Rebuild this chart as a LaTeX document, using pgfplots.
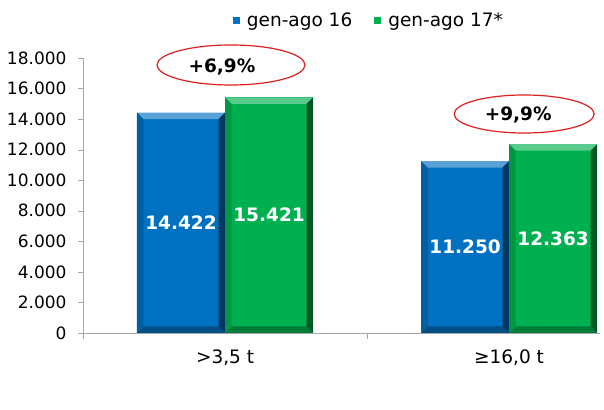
\documentclass[border=0pt]{standalone}
\usepackage{fontspec}
\setmainfont{DejaVu Sans}
\usepackage{pgfplots}
\pgfplotsset{compat=1.18}
\definecolor{cblue}{HTML}{0070C0}
\definecolor{cgreen}{HTML}{00B050}
\definecolor{cred}{HTML}{E02020}
\definecolor{axgray}{HTML}{A6A6A6}
\newlength\bw \setlength\bw{6.5bp}
\tikzset{bevel/.style={fill=#1, draw=none, path picture={
  \fill[#1!65!white, path picture={}] (path picture bounding box.north west) -- (path picture bounding box.north east) -- ([shift={(-\bw,-\bw)}]path picture bounding box.north east) -- ([shift={(\bw,-\bw)}]path picture bounding box.north west) -- cycle;
  \fill[#1!50!black, path picture={}] (path picture bounding box.north east) -- (path picture bounding box.south east) -- ([shift={(-\bw,\bw)}]path picture bounding box.south east) -- ([shift={(-\bw,-\bw)}]path picture bounding box.north east) -- cycle;
  \fill[#1!70!black, path picture={}] (path picture bounding box.south west) -- (path picture bounding box.south east) -- ([shift={(-\bw,\bw)}]path picture bounding box.south east) -- ([shift={(\bw,\bw)}]path picture bounding box.south west) -- cycle;
  \fill[#1!85!black, path picture={}] (path picture bounding box.north west) -- (path picture bounding box.south west) -- ([shift={(\bw,\bw)}]path picture bounding box.south west) -- ([shift={(\bw,-\bw)}]path picture bounding box.north west) -- cycle;
}}}
\begin{document}
\begin{tikzpicture}
\useasboundingbox (0,0) rectangle (604bp,410bp);
\begin{axis}[
  at={(83bp,77bp)}, anchor=south west,
  scale only axis, width=517bp, height=275bp,
  xmin=-0.5, xmax=1.32, ymin=0, ymax=18000,
  clip=false,
  axis lines*=left,
  axis line style={axgray, -},
  ybar=0pt, bar width=0.31,
  ytick={0,2000,...,18000},
  scaled y ticks=false,
  yticklabel style={/pgf/number format/1000 sep={.}, /pgf/number format/fixed, /pgf/number format/assume math mode=true, font=\fontsize{17bp}{20bp}\selectfont, xshift=-8bp},
  xtick={0,1}, xticklabels={{>3,5 t},{≥16,0 t}},
  minor xtick={-0.5,0.5},
  tick align=outside,
  major tick length=5bp, minor tick length=6bp,
  major x tick style={draw=none},
  tick style={axgray},
  minor tick style={axgray},
  xticklabel style={font=\fontsize{18.5bp}{21bp}\selectfont, yshift=-8bp},
  legend style={at={(0.553,1.138)}, anchor=center, draw=none, fill=none, legend columns=2, font=\fontsize{18.5bp}{21bp}\selectfont, /tikz/every even column/.append style={column sep=20bp}, /tikz/every odd column/.append style={column sep=5bp}},
  legend image code/.code={\fill[#1, path picture={}] (0bp,-3.5bp) rectangle (7bp,3.5bp);},
]
\addplot[bevel=cblue, bar shift=-0.155] coordinates {(0,14422)};
\addlegendentry{gen-ago 16}
\addplot[bevel=cgreen, bar shift=0.155] coordinates {(0,15421)};
\addlegendentry{gen-ago 17*}
\addplot[bevel=cblue, bar shift=-0.155, forget plot] coordinates {(1,11250)};
\addplot[bevel=cgreen, bar shift=0.155, forget plot] coordinates {(1,12363)};
\begin{scope}[font=\bfseries\fontsize{18.5bp}{21bp}\selectfont, text=white]
\node at (axis cs:-0.155,7211) {14.422};
\node at (axis cs:0.155,7710) {15.421};
\node at (axis cs:0.845,5625) {11.250};
\node at (axis cs:1.155,6181) {12.363};
\end{scope}
\draw[cred, line width=1.2bp] (axis cs:0.021,17542) ellipse [x radius=74bp, y radius=20bp];
\node[font=\bfseries\fontsize{18.5bp}{21bp}\selectfont] at (axis cs:-0.011,17411) {+6,9\%};
\draw[cred, line width=1.2bp] (axis cs:1.053,14335) ellipse [x radius=70bp, y radius=19bp];
\node[font=\bfseries\fontsize{18.5bp}{21bp}\selectfont] at (axis cs:1.032,14269) {+9,9\%};
\end{axis}
\end{tikzpicture}
\end{document}
